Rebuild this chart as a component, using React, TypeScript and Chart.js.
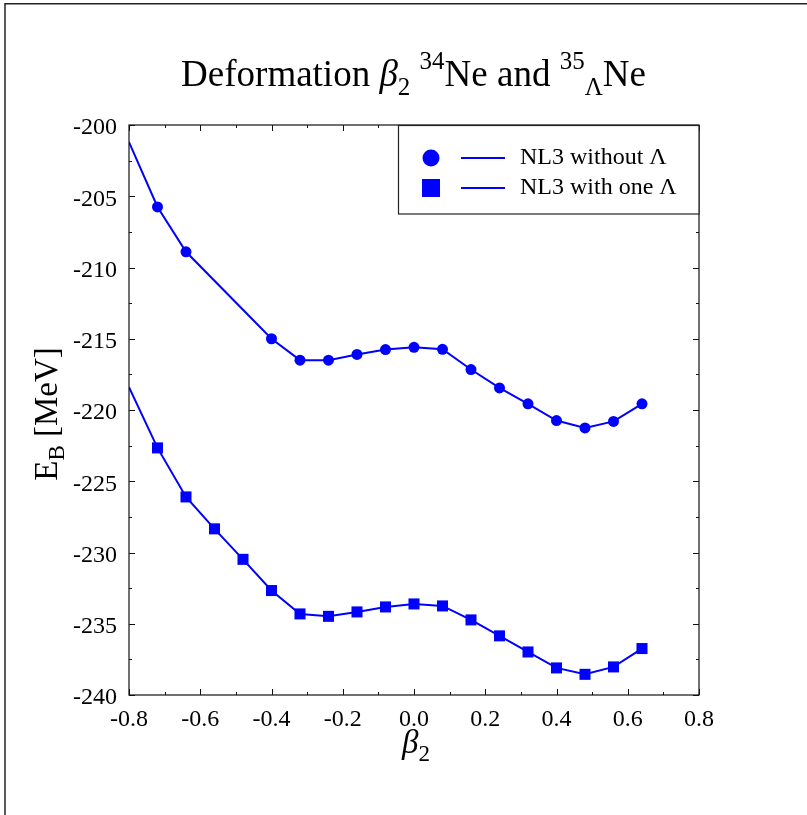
import React, { useEffect, useRef } from "react";
import { Chart, registerables } from "chart.js";

Chart.register(...registerables);

// ---- data ----
const betaWithout = [-0.8, -0.72, -0.64, -0.4, -0.32, -0.24, -0.16, -0.08, 0, 0.08, 0.16, 0.24, 0.32, 0.4, 0.48, 0.56, 0.64];
const energyWithout = [-201.2, -205.75, -208.9, -215.0, -216.5, -216.5, -216.1, -215.76, -215.6, -215.74, -217.16, -218.45, -219.57, -220.74, -221.26, -220.8, -219.57];
const betaWith = [-0.8, -0.72, -0.64, -0.56, -0.48, -0.4, -0.32, -0.24, -0.16, -0.08, 0, 0.08, 0.16, 0.24, 0.32, 0.4, 0.48, 0.56, 0.64];
const energyWith = [-218.4, -222.66, -226.1, -228.34, -230.48, -232.67, -234.31, -234.48, -234.17, -233.82, -233.61, -233.75, -234.73, -235.85, -236.98, -238.1, -238.55, -238.03, -236.74];
const seriesLabels = ["NL3 without \u039B", "NL3 with one \u039B"];
const xRange = [-0.8, 0.8];
const yRange = [-240, -200];
const xStep = 0.2;
const yStep = 5;

const SERIF = "'Liberation Serif', 'Times New Roman', serif";
const BLUE = "#0000ff";

type Piece = { t: string; f: string; dy: number };

function drawPieces(ctx: CanvasRenderingContext2D, pieces: Piece[], cx: number, baseline: number) {
  let total = 0;
  for (const p of pieces) {
    ctx.font = p.f;
    total += ctx.measureText(p.t).width;
  }
  let x = cx - total / 2;
  ctx.textAlign = "left";
  ctx.textBaseline = "alphabetic";
  for (const p of pieces) {
    ctx.font = p.f;
    ctx.fillText(p.t, x, baseline + p.dy);
    x += ctx.measureText(p.t).width;
  }
}

const decorPlugin = {
  id: "decor",
  afterDraw(chart: any) {
    const ctx: CanvasRenderingContext2D = chart.ctx;
    const { left, right, top, bottom } = chart.chartArea;
    const xs = chart.scales.x;
    const ys = chart.scales.y;
    ctx.save();

    // outer frame (top and left)
    ctx.strokeStyle = "#222";
    ctx.lineWidth = 1.5;
    ctx.beginPath();
    ctx.moveTo(5, 815);
    ctx.lineTo(5, 3.75);
    ctx.lineTo(807, 3.75);
    ctx.stroke();

    // plot frame
    ctx.strokeStyle = "#111";
    ctx.lineWidth = 1.2;
    ctx.strokeRect(left, top, right - left, bottom - top);

    // ticks (inward, mirrored)
    ctx.lineWidth = 1;
    ctx.beginPath();
    const xMinorStep = xStep / 2;
    for (let i = 0; i <= Math.round((xRange[1] - xRange[0]) / xMinorStep); i++) {
      const v = xRange[0] + i * xMinorStep;
      const px = Math.round(xs.getPixelForValue(v)) + 0.5;
      const len = i % 2 === 0 ? 6 : 3;
      ctx.moveTo(px, bottom);
      ctx.lineTo(px, bottom - len);
      ctx.moveTo(px, top);
      ctx.lineTo(px, top + len);
    }
    const yMinorStep = yStep / 2;
    for (let i = 0; i <= Math.round((yRange[1] - yRange[0]) / yMinorStep); i++) {
      const v = yRange[0] + i * yMinorStep;
      const py = Math.round(ys.getPixelForValue(v)) + 0.5;
      const len = i % 2 === 0 ? 6 : 3;
      ctx.moveTo(left, py);
      ctx.lineTo(left + len, py);
      ctx.moveTo(right, py);
      ctx.lineTo(right - len, py);
    }
    ctx.stroke();

    // legend
    const lx = 398.5;
    const lt = top + 0.5;
    const lw = right - lx;
    const lh = 88.5;
    ctx.fillStyle = "#fff";
    ctx.fillRect(lx, lt, lw, lh);
    ctx.strokeStyle = "#222";
    ctx.lineWidth = 1.2;
    ctx.strokeRect(lx, lt, lw, lh);
    const rows = [158, 188];
    chart.data.datasets.forEach((ds: any, i: number) => {
      const ry = rows[i];
      ctx.fillStyle = BLUE;
      if (ds.pointStyle === "circle") {
        ctx.beginPath();
        ctx.arc(431, ry, 8.5, 0, Math.PI * 2);
        ctx.fill();
      } else {
        ctx.fillRect(431 - 9, ry - 9, 18, 18);
      }
      ctx.strokeStyle = BLUE;
      ctx.lineWidth = 2;
      ctx.beginPath();
      ctx.moveTo(461, ry);
      ctx.lineTo(505, ry);
      ctx.stroke();
      ctx.fillStyle = "#000";
      ctx.font = `24px ${SERIF}`;
      ctx.textAlign = "left";
      ctx.textBaseline = "middle";
      ctx.fillText(ds.label, 520, ry);
    });

    // title
    ctx.fillStyle = "#000";
    const big = `37px ${SERIF}`;
    const small = `25px ${SERIF}`;
    drawPieces(
      ctx,
      [
        { t: "Deformation ", f: big, dy: 0 },
        { t: "\u03B2", f: `italic 37px ${SERIF}`, dy: 0 },
        { t: "2", f: small, dy: 9 },
        { t: " ", f: big, dy: 0 },
        { t: "34", f: small, dy: -17 },
        { t: "Ne and ", f: big, dy: 0 },
        { t: "35", f: small, dy: -17 },
        { t: "\u039B", f: small, dy: 9 },
        { t: "Ne", f: big, dy: 0 },
      ],
      413.5,
      86
    );

    // x axis title
    drawPieces(
      ctx,
      [
        { t: "\u03B2", f: `italic 33px ${SERIF}`, dy: 0 },
        { t: "2", f: `23px ${SERIF}`, dy: 8 },
      ],
      416,
      753
    );

    // y axis title
    ctx.save();
    ctx.translate(57, 414);
    ctx.rotate(-Math.PI / 2);
    drawPieces(
      ctx,
      [
        { t: "E", f: `33px ${SERIF}`, dy: 0 },
        { t: "B", f: `23px ${SERIF}`, dy: 7 },
        { t: " [MeV]", f: `33px ${SERIF}`, dy: 0 },
      ],
      0,
      0
    );
    ctx.restore();

    ctx.restore();
  },
};

export default function App() {
  const ref = useRef<HTMLCanvasElement | null>(null);

  useEffect(() => {
    document.body.style.margin = "0";
    const canvas = ref.current;
    if (!canvas) return;
    const chart = new Chart(canvas, {
      type: "line",
      data: {
        datasets: [
          {
            label: seriesLabels[0],
            data: betaWithout.map((b, i) => ({ x: b, y: energyWithout[i] })),
            borderColor: BLUE,
            backgroundColor: BLUE,
            borderWidth: 2,
            pointStyle: "circle",
            pointRadius: betaWithout.map((b) => (b <= -0.8 ? 0 : 5.5)),
            pointBorderWidth: 0,
            pointBackgroundColor: BLUE,
            tension: 0,
          },
          {
            label: seriesLabels[1],
            data: betaWith.map((b, i) => ({ x: b, y: energyWith[i] })),
            borderColor: BLUE,
            backgroundColor: BLUE,
            borderWidth: 2,
            pointStyle: "rect",
            pointRadius: betaWith.map((b) => (b <= -0.8 ? 0 : 7.8)),
            pointBorderWidth: 0,
            pointBackgroundColor: BLUE,
            tension: 0,
          },
        ],
      },
      options: {
        responsive: false,
        animation: false,
        devicePixelRatio: 1,
        layout: { padding: { left: 0, top: 125, right: 108, bottom: 60 } },
        plugins: { legend: { display: false }, title: { display: false }, tooltip: { enabled: false } },
        events: [],
        scales: {
          x: {
            type: "linear",
            min: xRange[0],
            max: xRange[1],
            grid: { display: false, drawTicks: false },
            border: { display: false },
            ticks: {
              stepSize: xStep,
              autoSkip: false,
              maxRotation: 0,
              padding: 10,
              color: "#000",
              font: { family: SERIF, size: 24 },
              callback: (v: any) => Number(v).toFixed(1),
            },
            afterFit: (s: any) => {
              s.height = 60;
            },
          },
          y: {
            type: "linear",
            min: yRange[0],
            max: yRange[1],
            grid: { display: false, drawTicks: false },
            border: { display: false },
            ticks: {
              stepSize: yStep,
              autoSkip: false,
              padding: 12,
              labelOffset: 3,
              color: "#000",
              font: { family: SERIF, size: 24 },
              callback: (v: any) => String(Math.round(Number(v))),
            },
            afterFit: (s: any) => {
              s.width = 129;
            },
          },
        },
      },
      plugins: [decorPlugin],
    });
    return () => chart.destroy();
  }, []);

  return <canvas ref={ref} width={807} height={815} style={{ display: "block", width: 807, height: 815 }} />;
}
